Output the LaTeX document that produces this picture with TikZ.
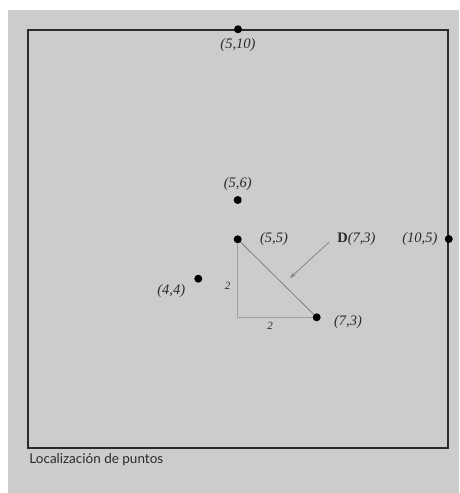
\documentclass[tikz,border=0pt]{standalone}
\usepackage{fontspec}
\setmainfont{Liberation Serif}
\newfontfamily\capfont{Lato}
\usetikzlibrary{positioning,arrows.meta}
\definecolor{panel}{HTML}{CCCCCC}
\definecolor{ink}{HTML}{2A2A2A}

\begin{document}
\begin{tikzpicture}[
		x=1pt, y=-1pt,
		frame/.style={
			draw=ink,
			line width=1.5pt,
			inner sep=0pt,
			minimum width=420pt,
			minimum height=418pt
		},
		dot/.style={
			circle,
			fill=black,
			inner sep=0pt,
			minimum size=8pt
		},
		coord/.style={
			inner sep=0pt,
			text=ink,
			font=\fontsize{14.5}{16}\selectfont\itshape
		},
		side/.style={draw=gray!75, line width=0.6pt},
		small/.style={
			inner sep=0pt,
			text=ink,
			font=\fontsize{11}{13}\selectfont\itshape
		}
		]
		
		\useasboundingbox (0,0) rectangle (459,493);
		\fill[panel] (8,10) rectangle (459,493);
		
		\node[frame] (frame) at (238,239) {};
		
		\node[dot] (p510) at (frame.north) {};
		\node[dot] (p105) at (frame.east) {};
		\node[dot] (p56) at (237.7,200) {};
		\node[dot] (p55) at (237.7,239.3) {};
		\node[dot] (p44) at (198.3,278.7) {};
		\node[dot] (p73) at (316.7,317.3) {};
		
		\node[coord] (l510) [below=5pt of p510] {(5,10)};
		\node[coord] (l56) [above=5pt of p56] {(5,6)};
		\node[coord] (l55) [right=18pt of p55] {(5,5)};
		\node[coord] (l105) [left=7pt of p105] {(10,5)};
		\node[coord] (l44) [below left=3pt and 10pt of p44] {(4,4)};
		\node[coord] (l73) [right=13pt of p73, yshift=-5pt] {(7,3)};
		\node[coord] (lD) [right=49pt of l55] {{\upshape\bfseries D}(7,3)};
		
		\draw[side] (p55) -- (p55 |- p73)
			node[small, midway, left=7pt, yshift=-5pt] {2}
			-- (p73)
			node[small, midway, below=5pt, xshift=-5pt] {2};
		\draw[draw=gray, line width=0.8pt] (p55) -- (p73);
		
		\coordinate (tip) at (290,278);
		\draw[-{Stealth[length=6pt,width=4pt]}, draw=gray, line width=0.7pt]
			([xshift=-8pt,yshift=4pt]lD.south west) -- (tip);
		
		\node[inner sep=0pt, text=ink, font=\capfont\fontsize{13.5}{15}\selectfont]
			(caption) [below right=5pt and 2pt of frame.south west]
			{Localización de puntos};
		
	\end{tikzpicture}
\end{document}
